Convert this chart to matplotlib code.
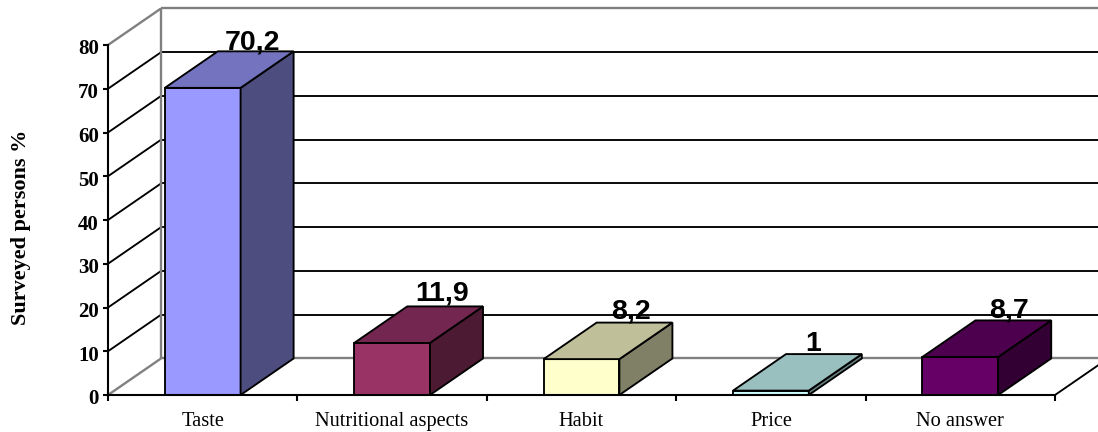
import matplotlib
matplotlib.use("Agg")
import matplotlib.pyplot as plt
from matplotlib.patches import Polygon
from matplotlib.transforms import Affine2D

categories = ["Taste", "Nutritional aspects", "Habit", "Price", "No answer"]
values = [70.2, 11.9, 8.2, 1, 8.7]
value_labels = ["70,2", "11,9", "8,2", "1", "8,7"]
front_colors = ["#9999FF", "#993366", "#FFFFCC", "#CCFFFF", "#660066"]
top_colors = ["#7373BF", "#732650", "#BFBF99", "#99BFBF", "#4D004D"]
side_colors = ["#4D4D80", "#4D1A33", "#808066", "#668080", "#330033"]
y_ticks = [0, 10, 20, 30, 40, 50, 60, 70, 80]

# oblique depth of the chart box, in data units
DX = 0.28
DY = 8.35
BAR_W = 0.4
INK = 1.35
GREY = "#808080"

serif = "Liberation Serif"
sans = "Liberation Sans"

# nudges for the value labels, pixels from the bar's back top edge
label_dx = [50, 50, 50, 42, 49]
label_dy = [2, 6, 4, 3, 3]

fig = plt.figure(figsize=(10.98, 4.32), dpi=100)
ax = fig.add_axes([108 / 1098, 37 / 432, 947 / 1098, 350 / 432])
ax.patch.set_visible(False)
ax.set_xlim(0, 5)
ax.set_ylim(0, 80)


def line(xs, ys, color="black", lw=INK, z=1):
    ax.plot(xs, ys, color=color, lw=lw, clip_on=False, zorder=z, solid_capstyle="butt")


# back wall and left wall
for v in y_ticks:
    color = GREY if v in (0, 80) else "black"
    lw = 1.7 if v in (0, 80) else INK
    line([0, DX], [v, v + DY], color, lw)
    line([DX, 5 + DX], [v + DY, v + DY], color, lw)
line([DX, DX], [DY, 80 + DY], GREY, 1.7)
# right end of the floor
line([5, 5 + DX], [0, DY])

# bars: front face, then side and top in oblique projection
for i, v in enumerate(values):
    x0 = i + 0.5 - BAR_W / 2
    x1 = i + 0.5 + BAR_W / 2
    ax.bar(i + 0.5, v, BAR_W, color=front_colors[i], edgecolor="black", lw=INK, zorder=3, clip_on=False)
    side = [(x1, 0), (x1 + DX, DY), (x1 + DX, v + DY), (x1, v)]
    top = [(x0, v), (x1, v), (x1 + DX, v + DY), (x0 + DX, v + DY)]
    ax.add_patch(Polygon(side, fc=side_colors[i], ec="black", lw=INK, zorder=3, clip_on=False))
    ax.add_patch(Polygon(top, fc=top_colors[i], ec="black", lw=INK, zorder=3, clip_on=False))
    ax.annotate(value_labels[i], (i + 0.5, v + DY), xytext=(label_dx[i] * 0.72, label_dy[i] * 0.72),
                textcoords="offset points", ha="center", va="baseline", fontsize=20.5,
                fontweight="bold", family=sans, zorder=5, annotation_clip=False)

for s in ("top", "right"):
    ax.spines[s].set_visible(False)
for s in ("left", "bottom"):
    ax.spines[s].set_linewidth(1.5)
    ax.spines[s].set_zorder(4)

ax.set_yticks(y_ticks)
ax.set_yticklabels([str(v) for v in y_ticks], fontsize=15, fontweight="bold", family=serif)
ax.tick_params(axis="y", length=3.5, width=1.5, pad=3)
for lab in ax.get_yticklabels():
    lab.set_transform(lab.get_transform() + Affine2D().translate(0, -2))

ax.set_xticks(range(6))
ax.set_xticklabels([])
ax.tick_params(axis="x", which="major", length=4.5, width=1.5)
ax.set_xticks([i + 0.5 for i in range(5)], minor=True)
ax.set_xticklabels(categories, minor=True, fontsize=14.7, family=serif)
ax.tick_params(axis="x", which="minor", length=0, pad=12.5)

ax.set_ylabel("Surveyed persons %", fontsize=16, fontweight="bold", family=serif)
ax.yaxis.set_label_coords(31 / 1098, (432 - 227) / 432, transform=fig.transFigure)

fig.savefig("out.png", dpi=100)
